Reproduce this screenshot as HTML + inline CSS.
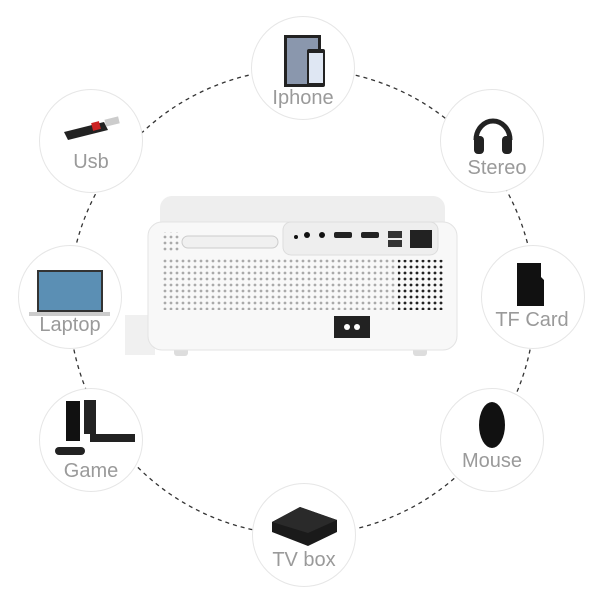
<!DOCTYPE html>
<html><head><style>
body{margin:0;width:600px;height:600px;background:#fff;overflow:hidden;position:relative;font-family:"Liberation Sans",sans-serif}
.c{position:absolute;width:104px;height:104px;border-radius:50%;border:1px solid #e6e6e6;background:#fff;box-sizing:border-box}
.l{position:absolute;width:140px;text-align:center;color:#9a9a9a;font-size:20px}
</style></head><body>
<svg width="600" height="600" style="position:absolute;left:0;top:0">
<circle cx="302" cy="302" r="233" fill="none" stroke="#333" stroke-width="1.3" stroke-dasharray="4,4"/>
</svg>
<div class="c" style="left:251px;top:16px"></div>
<div class="c" style="left:39px;top:89px"></div>
<div class="c" style="left:440px;top:89px"></div>
<div class="c" style="left:18px;top:245px"></div>
<div class="c" style="left:481px;top:245px"></div>
<div class="c" style="left:39px;top:388px"></div>
<div class="c" style="left:440px;top:388px"></div>
<div class="c" style="left:252px;top:483px"></div>
<svg width="600" height="600" style="position:absolute;left:0;top:0">
<rect x="284" y="35" width="37" height="52" fill="#222"/><rect x="287" y="38" width="31" height="46" fill="#8a97ad"/>
<rect x="307" y="49" width="18" height="38" rx="2" fill="#222"/><rect x="309" y="53" width="14" height="30" fill="#dfe7f3"/>
<path d="M64 132 L104 122 L108 130 L68 140Z" fill="#222"/><rect x="92" y="122" width="8" height="8" fill="#c22" transform="rotate(-14 96 126)"/><rect x="105" y="118" width="14" height="7" fill="#ccc" transform="rotate(-14 112 121)"/>
<path d="M476 140 a17 19 0 0 1 34 0" fill="none" stroke="#222" stroke-width="5"/>
<rect x="474" y="136" width="10" height="18" rx="4" fill="#222"/><rect x="502" y="136" width="10" height="18" rx="4" fill="#222"/>
<rect x="37" y="270" width="66" height="42" fill="#333"/><rect x="39" y="272" width="62" height="38" fill="#5b8fb4"/>
<rect x="29" y="312" width="81" height="4" fill="#ccc"/>
<path d="M517 263 h24 v14 l3 3 v26 h-27z" fill="#111"/>
<rect x="66" y="401" width="14" height="40" fill="#111"/><rect x="84" y="400" width="12" height="34" fill="#222"/>
<rect x="55" y="447" width="30" height="8" rx="4" fill="#222"/><rect x="90" y="434" width="45" height="8" fill="#222"/>
<ellipse cx="492" cy="425" rx="13" ry="23" fill="#111"/>
<path d="M272 522 L300 507 L337 520 L337 532 L308 546 L272 532Z" fill="#1a1a1a"/><path d="M272 522 L300 507 L337 520 L308 533Z" fill="#2a2a2a"/>
</svg>
<div class="l" style="left:233px;top:87px">Iphone</div>
<div class="l" style="left:21px;top:151px">Usb</div>
<div class="l" style="left:427px;top:157px">Stereo</div>
<div class="l" style="left:0px;top:314px">Laptop</div>
<div class="l" style="left:462px;top:309px">TF Card</div>
<div class="l" style="left:21px;top:460px">Game</div>
<div class="l" style="left:422px;top:450px">Mouse</div>
<div class="l" style="left:234px;top:549px">TV box</div>
<svg width="600" height="600" style="position:absolute;left:0;top:0">
<defs><pattern id="d" width="6" height="6" patternUnits="userSpaceOnUse"><circle cx="3" cy="3" r="1.4" fill="#aaa"/></pattern>
<pattern id="d2" width="6" height="6" patternUnits="userSpaceOnUse"><circle cx="3" cy="3" r="1.4" fill="#222"/></pattern></defs>
<rect x="125" y="315" width="30" height="40" fill="#f0f0f0"/>
<rect x="174" y="342" width="14" height="14" rx="3" fill="#ddd"/><rect x="413" y="342" width="14" height="14" rx="3" fill="#ddd"/>
<rect x="160" y="196" width="285" height="40" rx="12" fill="#eeeeee"/>
<rect x="148" y="222" width="309" height="128" rx="14" fill="#f8f8f8" stroke="#e3e3e3"/>
<rect x="283" y="222" width="155" height="33" rx="8" fill="#eee" stroke="#ddd"/>
<circle cx="296" cy="237" r="2" fill="#111"/><circle cx="307" cy="235" r="3" fill="#111"/><circle cx="322" cy="235" r="3" fill="#111"/>
<rect x="334" y="232" width="18" height="6" rx="2" fill="#222"/><rect x="361" y="232" width="18" height="6" rx="2" fill="#222"/>
<rect x="388" y="231" width="14" height="7" fill="#333"/><rect x="388" y="240" width="14" height="7" fill="#333"/>
<rect x="410" y="230" width="22" height="18" fill="#222"/>
<rect x="182" y="236" width="96" height="12" rx="6" fill="#f0f0f0" stroke="#ccc"/>
<rect x="163" y="258" width="280" height="52" fill="url(#d)"/>
<rect x="398" y="260" width="45" height="50" fill="url(#d2)"/>
<rect x="163" y="232" width="16" height="20" fill="url(#d)"/>
<rect x="334" y="316" width="36" height="22" fill="#222"/><circle cx="347" cy="327" r="3" fill="#fff"/><circle cx="357" cy="327" r="3" fill="#fff"/>
</svg>
</body></html>
